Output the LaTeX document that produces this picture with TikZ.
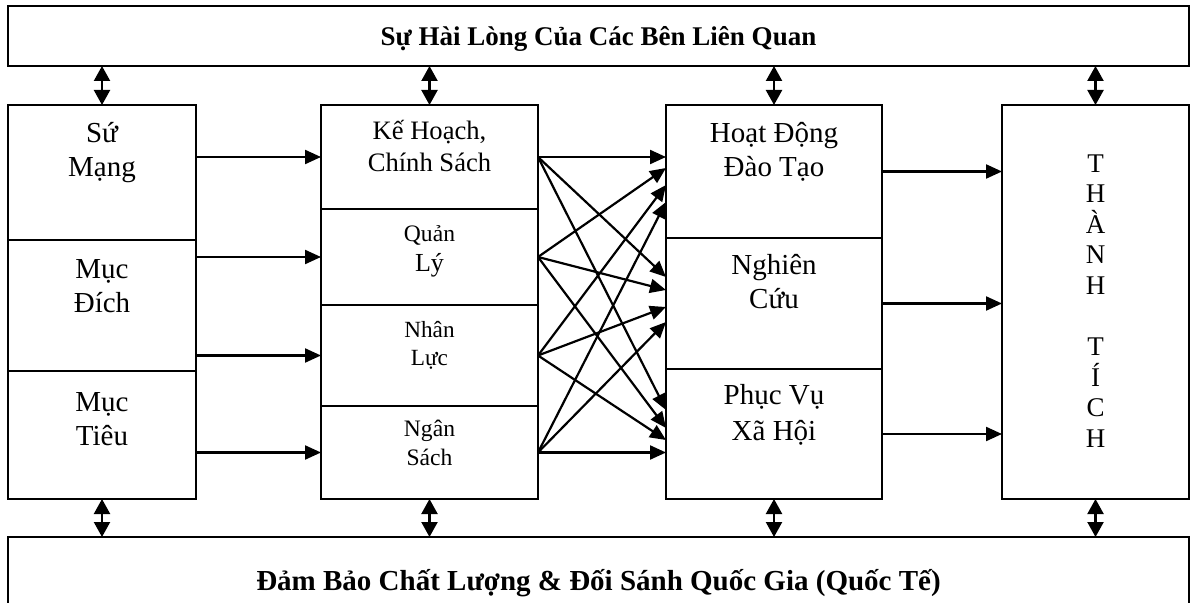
\documentclass[tikz,border=0pt]{standalone}
\usepackage{fontspec}
\setmainfont{Liberation Serif}
\usetikzlibrary{positioning,arrows.meta}

\begin{document}
\begin{tikzpicture}[x=0.5pt, y=-0.5pt, line width=1.1pt,
    cell/.style={draw, rectangle, inner sep=0pt, outer sep=0pt},
    bar/.style={cell, minimum width=590.5pt, text depth=0pt, font=\bfseries\fontsize{13.5}{16}\selectfont},
    txt/.style={anchor=base, align=center, inner sep=0pt, font=\fontsize{14.5}{17}\selectfont},
    small/.style={txt, font=\fontsize{13.3}{16}\selectfont},
    arr/.style={-{Triangle[length=8pt,width=7pt]}},
    dbl/.style={{Triangle[length=7.5pt,width=8pt]}-{Triangle[length=7.5pt,width=8pt]}}]
    \path[use as bounding box] (0,0) rectangle (1192,603);
    \clip (0,0) rectangle (1192,603);

    \node[bar, minimum height=30pt] (top) at (598.5,36) {Sự Hài Lòng Của Các Bên Liên Quan};
    \node[bar, minimum height=43pt, font=\bfseries\fontsize{14.5}{17}\selectfont] (bot) at (598.5,580)
        {Đảm Bảo Chất Lượng \& Đối Sánh Quốc Gia (Quốc Tế)};

    % left column
    \node[cell, minimum width=94pt, minimum height=67.5pt] (sm) at (102,172.5) {};
    \node[cell, minimum width=94pt, minimum height=65.5pt, below=0pt of sm] (md) {};
    \node[cell, minimum width=94pt, minimum height=64pt, below=0pt of md] (mt) {};
    \node[txt] (smt) at ([yshift=-36pt]sm.north) {Sứ\\Mạng};
    \node[txt] (mdt) at ([yshift=-36.5pt]md.north) {Mục\\Đích};
    \node[txt] (mtt) at ([yshift=-37pt]mt.north) {Mục\\Tiêu};

    % middle column
    \node[cell, minimum width=108.5pt, minimum height=52pt] (kh) at (429.5,157) {};
    \node[cell, minimum width=108.5pt, minimum height=48pt, below=0pt of kh] (ql) {};
    \node[cell, minimum width=108.5pt, minimum height=50.5pt, below=0pt of ql] (nl) {};
    \node[cell, minimum width=108.5pt, minimum height=46.5pt, below=0pt of nl] (ns) {};
    \node[small] (kht) at ([yshift=-33.5pt]kh.north) {Kế Hoạch,\\Chính Sách};
    \node[small, font=\fontsize{13}{15}\selectfont] (qlt) at ([yshift=-31.5pt]ql.north) {{\fontsize{11.8}{14}\selectfont Quản}\\Lý};
    \node[small, font=\fontsize{11.6}{14}\selectfont] (nlt) at ([yshift=-30.5pt]nl.north) {Nhân\\Lực};
    \node[small, font=\fontsize{11.8}{14.5}\selectfont] (nst) at ([yshift=-30pt]ns.north) {Ngân\\Sách};

    % right column
    \node[cell, minimum width=108pt, minimum height=66.5pt] (hd) at (774,171.5) {};
    \node[cell, minimum width=108pt, minimum height=65.5pt, below=0pt of hd] (nc) {};
    \node[cell, minimum width=108pt, minimum height=65pt, below=0pt of nc] (pv) {};
    \node[txt] (hdt) at ([yshift=-36pt]hd.north) {Hoạt Động\\Đào Tạo};
    \node[txt] (nct) at ([yshift=-35.5pt]nc.north) {Nghiên\\Cứu};
    \node[txt, font=\fontsize{14.5}{17.5}\selectfont] (pvt) at ([yshift=-35.5pt]pv.north) {Phục Vụ\\Xã Hội};

    \node[cell, minimum width=93.5pt, minimum height=197pt] (tt) at (1095.5,302) {};
    \node[txt, font=\fontsize{13.5}{15.25}\selectfont] (ttt) at ([yshift=-171pt]tt.north)
        {T\\H\\À\\N\\H\\[15.25pt]T\\Í\\C\\H};

    % arrows
    \draw[arr] (sm.east |- kh.west) -- (kh.west);
    \draw[arr] (md.east |- ql.west) -- (ql.west);
    \draw[arr] (md.east |- nl.west) -- (nl.west);
    \draw[arr] (mt.east |- ns.west) -- (ns.west);
    \foreach \s/\a/\b/\c in {kh/157/277/410, ql/168/290/428, nl/185/307/440, ns/202/322/452.5}
        \path[arr] (\s.east) edge (hd.west |- 0,\a)
                             edge (nc.west |- 0,\b)
                             edge (pv.west |- 0,\c);
    \foreach \s in {hd,nc,pv}
        \draw[arr] (\s.east) -- (tt.west |- \s.east);
    \foreach \c in {sm,kh,hd,tt}
        \draw[dbl] (top.south -| \c.north) -- (\c.north);
    \foreach \c in {mt,ns,pv,tt}
        \draw[dbl] (\c.south) -- (bot.north -| \c.south);
\end{tikzpicture}
\end{document}
